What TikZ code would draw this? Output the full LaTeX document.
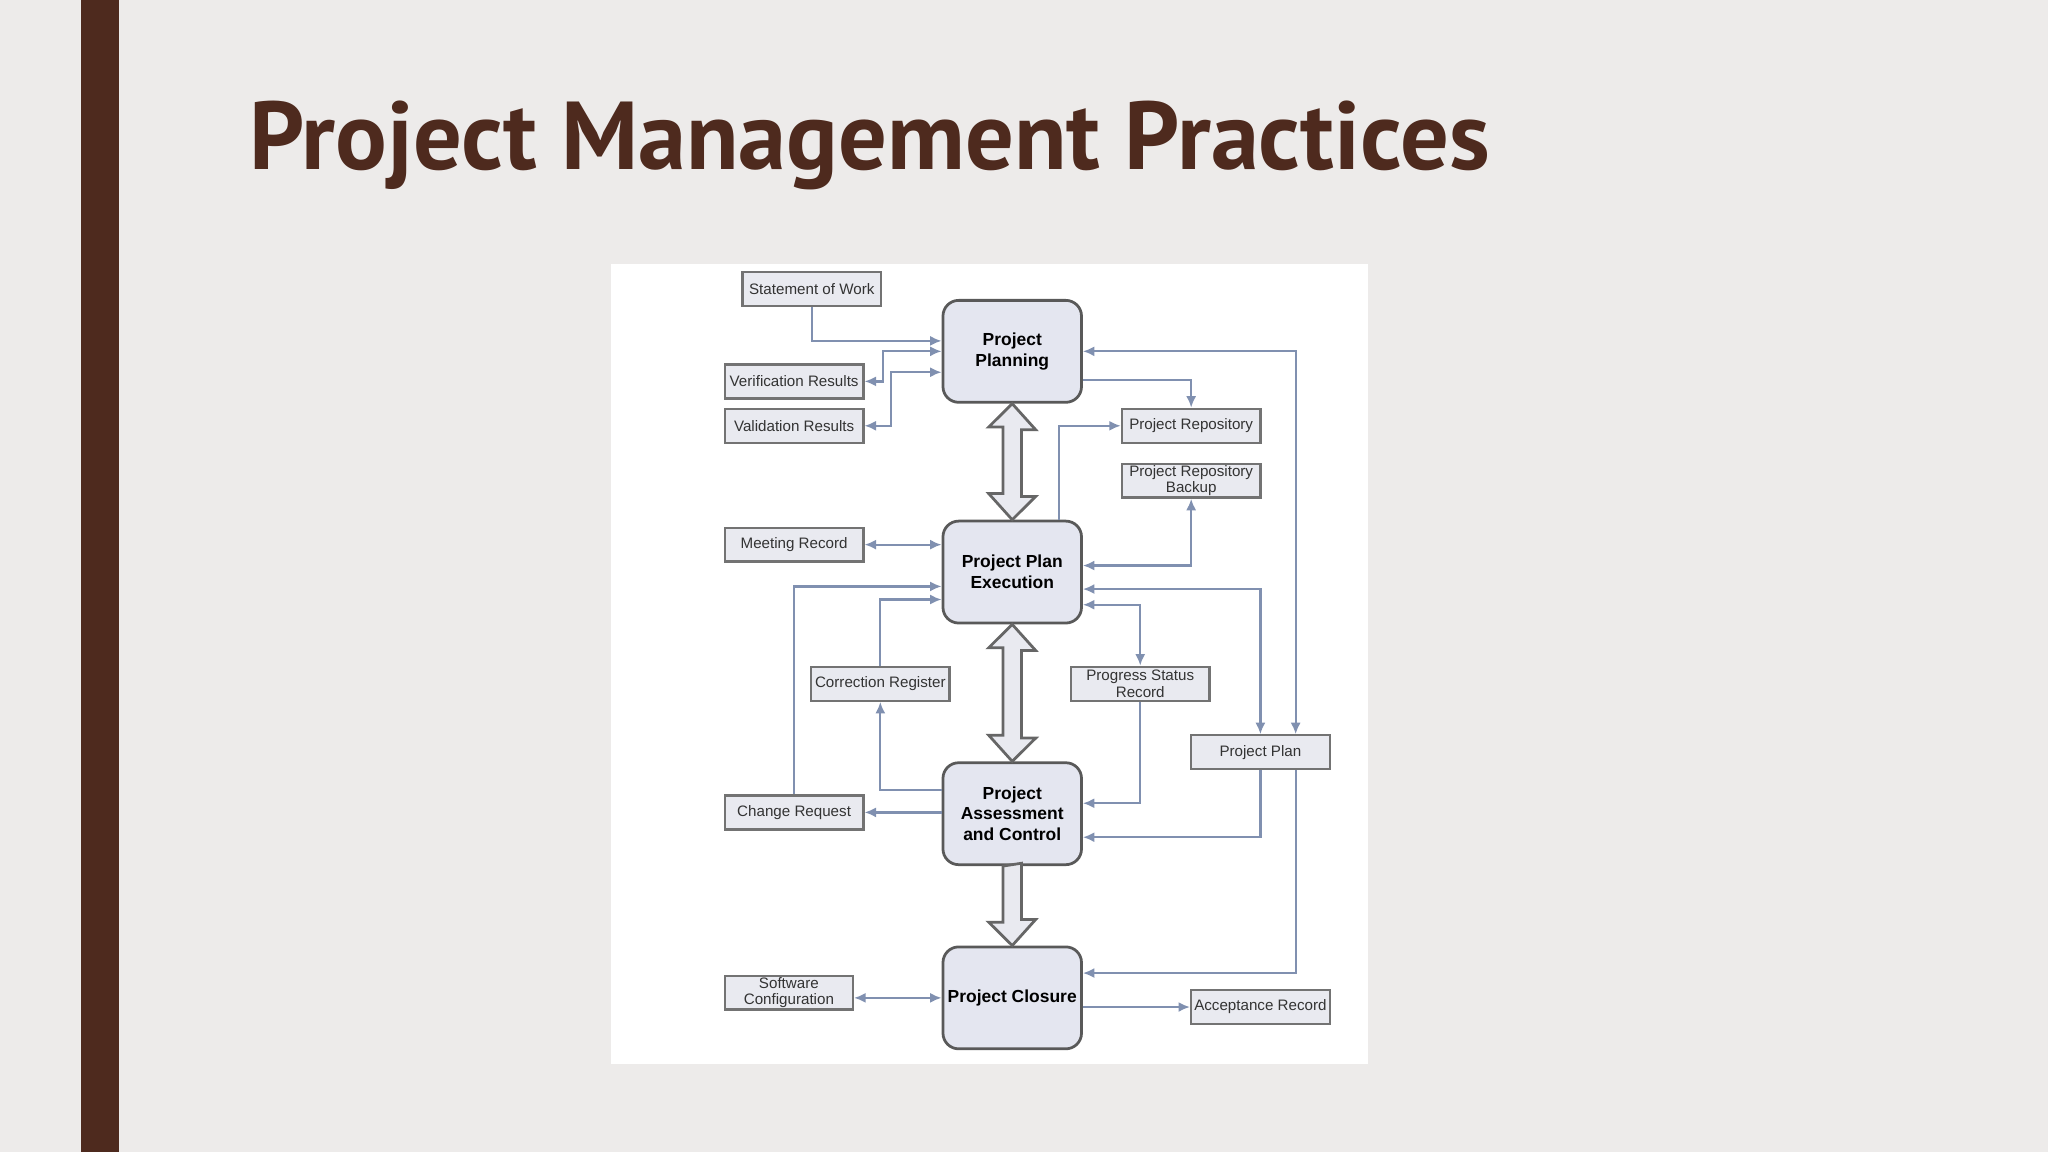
\documentclass[tikz,border=0pt]{standalone}
\usepackage{fontspec}
\setmainfont{Liberation Sans}
\newfontfamily\titlefont{PT Sans}
\usetikzlibrary{arrows.meta,calc}
\definecolor{bg}{HTML}{EDEBEA}
\definecolor{brown}{HTML}{4E2A1E}
\definecolor{ln}{HTML}{8090B0}
\definecolor{bfill}{HTML}{E9EAF0}
\definecolor{nfill}{HTML}{E4E6F0}
\tikzset{
 sbox/.style={draw=black!55,fill=bfill,line width=0.5pt,minimum width=1.06cm,minimum height=0.26cm,inner sep=0pt,align=center,text=black!80,font=\fontsize{3.3}{3.6}\selectfont},
 bnode/.style={draw=black!65,fill=nfill,line width=0.6pt,rounded corners=0.12cm,minimum width=1.06cm,minimum height=0.78cm,inner sep=0pt,align=center,font=\bfseries\fontsize{3.8}{4.5}\selectfont},
 fl/.style={draw=ln,line width=0.5pt,>={Latex[length=2.5pt,width=2.2pt]}},
 big/.style={draw=black!60,fill=bfill,line width=0.6pt,line join=miter},
}
\begin{document}
\begin{tikzpicture}[x=0.01cm,y=-0.01cm]
\fill[bg] (0,0) rectangle (1568,882);
\useasboundingbox (0,0) rectangle (1568,882);
\fill[brown] (62,0) rectangle (91,882);
\node[anchor=base west,inner sep=0pt,text=brown,font=\titlefont\bfseries\fontsize{21}{21}\selectfont] (title) at (190,130) {Project Management Practices};
\fill[white] (468,202) rectangle (1047,815);
% main nodes
\node[bnode] (pp) at (775,269) {Project\\Planning};
\node[bnode] (ppe) at (775,438) {Project Plan\\Execution};
\node[bnode] (pac) at (775,623) {Project\\Assessment\\and Control};
\node[bnode] (pc) at (775,764) {Project Closure};
% small boxes
\node[sbox] (sow) at (621.5,221.5) {Statement of Work};
\node[sbox] (ver) at (608,292) {Verification Results};
\node[sbox] (val) at (608,326) {Validation Results};
\node[sbox] (meet) at (608,417) {Meeting Record};
\node[sbox] (corr) at (674,523.5) {Correction Register};
\node[sbox] (chg) at (608,622) {Change Request};
\node[sbox,minimum width=0.98cm] (sw) at (604,760) {Software\\Configuration};
\node[sbox] (repo) at (912,326) {Project Repository};
\node[sbox] (prb) at (912,368) {Project Repository\\Backup};
\node[sbox] (psr) at (873,523.5) {Progress Status\\Record};
\node[sbox] (pplan) at (965,576) {Project Plan};
\node[sbox] (acc) at (965,771) {Acceptance Record};
% big arrows
\draw[big] (pp.south) -- ++(18,20) -- ++(-11,0) -- ++(0,51) -- ++(11,0) -- (ppe.north) -- ++(-18,-20) -- ++(11,0) -- ++(0,-51) -- ++(-11,0) -- cycle;
\draw[big] (ppe.south) -- ++(18,20) -- ++(-11,0) -- ++(0,67) -- ++(11,0) -- (pac.north) -- ++(-18,-20) -- ++(11,0) -- ++(0,-67) -- ++(-11,0) -- cycle;
\draw[big] ($(pac.south)+(-7,0)$) -- ++(0,43) -- ++(-11,0) -- (pc.north) -- ++(18,-20) -- ++(-11,0) -- ++(0,-43) -- cycle;
% connectors
\draw[fl,->] (sow.south) |- ($(pp.west)+(0,-8)$);
\draw[fl,<->] (pp.west) -- (676,269) |- (ver.east);
\draw[fl,<->] ($(pp.west)+(0,16)$) -- (682,285) |- (val.east);
\draw[fl,<->] (pp.east) -| ($(pplan.north)+(27,0)$);
\draw[fl,->] ($(pp.east)+(0,22)$) -| (repo.north);
\draw[fl,->] ($(ppe.north)+(36,0)$) |- (repo.west);
\draw[fl,<->] ($(ppe.east)+(0,-5)$) -| (prb.south);
\draw[fl,<->] (meet.east) -- (meet.east -| ppe.west);
\draw[fl,<->] ($(ppe.east)+(0,13)$) -| (pplan.north);
\draw[fl,<->] ($(ppe.east)+(0,25)$) -| (psr.north);
\draw[fl,->] (chg.north) |- ($(ppe.west)+(0,11)$);
\draw[fl,->] (corr.north) |- ($(ppe.west)+(0,21)$);
\draw[fl,->] ($(pac.west)+(0,-18)$) -| (corr.south);
\draw[fl,->] (pac.west |- chg.east) -- (chg.east);
\draw[fl,->] (psr.south) |- ($(pac.east)+(0,-8)$);
\draw[fl,->] (pplan.south) |- ($(pac.east)+(0,18)$);
\draw[fl,->] ($(pplan.south)+(27,0)$) |- ($(pc.east)+(0,-19)$);
\draw[fl,<->] (sw.east |- pc.west) -- (pc.west);
\draw[fl,->] (pc.east |- acc.west) -- (acc.west);
\end{tikzpicture}
\end{document}
